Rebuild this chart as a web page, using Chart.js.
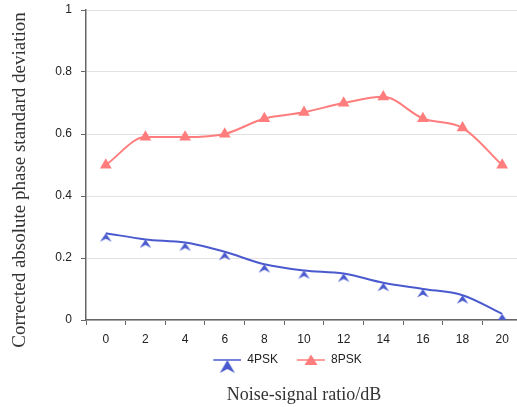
<!DOCTYPE html>
<html>
<head>
<meta charset="utf-8">
<script src="https://cdn.jsdelivr.net/npm/chart.js@4/dist/chart.umd.min.js"></script>
<style>
	html, body { margin: 0; padding: 0; overflow: hidden; background: #fff; }
	canvas { display: block; }
</style>
</head>
<body>
<canvas id="line-chartcanvas" width="530" height="407"></canvas>
<script>
	// data
	var snrLabels = ["0", "2", "4", "6", "8", "10", "12", "14", "16", "18", "20"];
	var psk4 = [0.28, 0.26, 0.25, 0.22, 0.18, 0.16, 0.15, 0.12, 0.10, 0.08, 0.02];
	var psk8 = [0.50, 0.59, 0.59, 0.60, 0.65, 0.67, 0.70, 0.72, 0.65, 0.62, 0.50];
	var yTicks = [0, 0.2, 0.4, 0.6, 0.8, 1];

	var blue = "#4a5ace";
	var salmon = "#ff7d7d";

	// arrowhead marker, tip at the centre of the image
	function arrowMarker() {
		var c = document.createElement("canvas");
		c.width = 13;
		c.height = 20;
		var g = c.getContext("2d");
		g.fillStyle = blue;
		g.beginPath();
		g.moveTo(6.5, 10);
		g.lineTo(12.3, 18.6);
		g.lineTo(6.5, 15.6);
		g.lineTo(0.7, 18.6);
		g.closePath();
		g.fill();
		return c;
	}

	// legend icons: 12px of empty space on the left, then a 28px line with its marker
	function legendIcon(color, drawMarker) {
		var c = document.createElement("canvas");
		c.width = 40;
		c.height = 28;
		var g = c.getContext("2d");
		g.strokeStyle = color;
		g.fillStyle = color;
		g.lineWidth = 1.5;
		g.beginPath();
		g.moveTo(12, 14);
		g.lineTo(40, 14);
		g.stroke();
		g.beginPath();
		drawMarker(g);
		g.closePath();
		g.fill();
		return c;
	}

	var legendIcons = [
		legendIcon(blue, function(g) {
			g.moveTo(26, 14);
			g.lineTo(33.5, 27);
			g.lineTo(26, 23);
			g.lineTo(18.5, 27);
		}),
		legendIcon(salmon, function(g) {
			g.moveTo(26, 8.5);
			g.lineTo(32.5, 19);
			g.lineTo(19.5, 19);
		})
	];

	var yTitle = {
		id: "yTitle",
		afterDraw: function(chart) {
			var ctx = chart.ctx;
			ctx.save();
			ctx.translate(20, 180);
			ctx.rotate(-Math.PI / 2);
			ctx.textAlign = "center";
			ctx.textBaseline = "middle";
			ctx.font = '19px "Liberation Serif"';
			ctx.fillStyle = "#333";
			ctx.fillText("Corrected absolute phase standard deviation", 0, 0);
			ctx.restore();
		}
	};

	var ctx = document.getElementById("line-chartcanvas");

	var data = {
		labels: snrLabels,
		datasets: [
			{
				label: "4PSK",
				data: psk4,
				borderColor: blue,
				backgroundColor: blue,
				borderWidth: 2,
				fill: false,
				cubicInterpolationMode: "monotone",
				pointStyle: arrowMarker(),
				pointRadius: 6
			},
			{
				label: "8PSK",
				data: psk8,
				borderColor: salmon,
				backgroundColor: salmon,
				borderWidth: 2,
				fill: false,
				cubicInterpolationMode: "monotone",
				pointStyle: "triangle",
				pointRadius: 6.8,
				pointBorderWidth: 0
			}
		]
	};

	var options = {
		responsive: false,
		animation: false,
		layout: { padding: { left: 33, top: 10, right: 0, bottom: 0 } },
		scales: {
			x: {
				type: "category",
				offset: true,
				afterFit: function(s) { s.height = 27; },
				grid: { drawOnChartArea: false, offset: true, tickLength: 5, tickColor: "#666" },
				border: { color: "#666", width: 1.5 },
				ticks: { color: "#222", padding: 7, font: { family: "Liberation Sans", size: 12 } }
			},
			y: {
				min: 0,
				max: 1,
				afterFit: function(s) { s.width = 53; s.paddingTop = 0; },
				afterBuildTicks: function(s) { s.ticks = yTicks.map(function(v) { return { value: v }; }); },
				grid: { color: "#e2e2e2", tickLength: 5, tickColor: "#666" },
				border: { color: "#666", width: 1.5 },
				ticks: {
					color: "#222",
					padding: 9,
					font: { family: "Liberation Sans", size: 12 },
					callback: function(v) { return String(v); }
				}
			}
		},
		plugins: {
			legend: {
				display: true,
				position: "bottom",
				fullSize: true,
				labels: {
					usePointStyle: true,
					pointStyleWidth: 40,
					padding: 7,
					color: "#222",
					font: { family: "Liberation Sans", size: 12 },
					generateLabels: function(chart) {
						var items = Chart.defaults.plugins.legend.labels.generateLabels(chart);
						items.forEach(function(it, i) { it.pointStyle = legendIcons[i]; });
						return items;
					}
				}
			},
			title: {
				display: true,
				position: "bottom",
				fullSize: false,
				text: "Noise-signal ratio/dB",
				color: "#333",
				padding: { top: 8.2, bottom: 1.2 },
				font: { family: "Liberation Serif", size: 18, weight: "normal" }
			},
			tooltip: { enabled: false }
		}
	};

	var chart = new Chart(ctx, {
		type: "line",
		data: data,
		options: options,
		plugins: [yTitle]
	});
</script>
</body>
</html>
